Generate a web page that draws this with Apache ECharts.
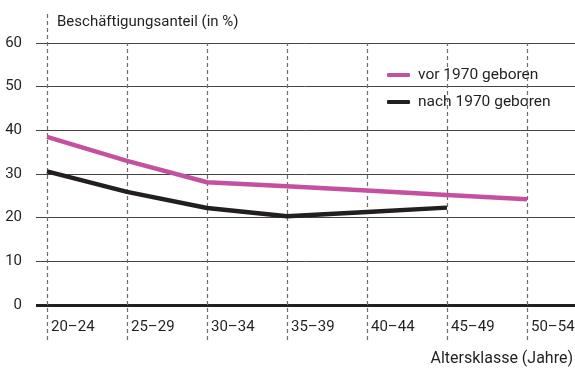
<!DOCTYPE html>
<html>
<head>
<meta charset="utf-8">
<script src="https://cdn.jsdelivr.net/npm/echarts@6/dist/echarts.min.js"></script>
<style>
  html, body { margin: 0; padding: 0; background: #fff; }
  #chart { width: 575px; height: 369px; }
</style>
</head>
<body>
<div id="chart"></div>
<script>
// Age groups (x categories)
const categories = ['20–24', '25–29', '30–34', '35–39', '40–44', '45–49', '50–54'];
// Employment share in % per age group
const bornBefore1970 = [38.5, 33.0, 28.1, 27.2, 26.2, 25.2, 24.2];
const bornAfter1970 = [30.6, 25.9, 22.2, 20.3, 21.3, 22.3];
// Horizontal reference lines (y values)
const yGridValues = [10, 20, 30, 40, 50, 60];

const FONT = 'Roboto';
const PINK = '#c4519f';
const DARK = '#231f20';

const toPoints = arr => arr.map((v, i) => [i, v]);

// Dashed vertical guides at every age group; the first one reaches up to the axis title
const verticalGuides = categories.map((c, i) => [
  { coord: [i, -8] },
  { coord: [i, i === 0 ? 67.1 : 60] }
]);

const chart = echarts.init(document.getElementById('chart'), null, { renderer: 'canvas' });

chart.setOption({
  animation: false,
  backgroundColor: '#fff',
  textStyle: { fontFamily: FONT },
  title: [
    {
      text: 'Beschäftigungsanteil (in %)',
      left: 52, top: 10,
      textStyle: { fontFamily: FONT, fontSize: 15, fontWeight: 'normal', color: '#231f20' }
    },
    {
      text: 'Altersklasse (Jahre)',
      right: -3, top: 346,
      textStyle: { fontFamily: FONT, fontSize: 16, fontWeight: 'normal', color: '#231f20' }
    }
  ],
  legend: {
    orient: 'vertical',
    left: 379, top: 61,
    padding: [6, 12, 6, 8],
    backgroundColor: '#fff',
    itemWidth: 23, itemHeight: 4,
    itemGap: 11,
    icon: 'roundRect',
    textStyle: { fontFamily: FONT, fontSize: 15.5, color: '#231f20', padding: [0, 0, 0, 3] },
    data: ['vor 1970 geboren', 'nach 1970 geboren']
  },
  grid: { left: 36, right: 0, top: -0.67, bottom: 20.33, outerBoundsMode: 'none', containLabel: false },
  xAxis: {
    type: 'value',
    min: -0.1375, max: 6.6,
    splitLine: { show: false },
    axisTick: { show: false },
    axisLine: { show: false, onZero: false },
    axisLabel: {
      customValues: categories.map((c, i) => i),
      formatter: v => categories[Math.round(v)] || '',
      align: 'left',
      padding: [0, 0, 0, 4],
      margin: -29,
      fontFamily: FONT, fontSize: 15, color: '#231f20'
    }
  },
  yAxis: {
    type: 'value',
    min: -10, max: 70, interval: 10,
    splitLine: { show: false },
    axisLine: { show: false },
    axisTick: { show: false },
    axisLabel: {
      formatter: v => (v < 0 || v > 60) ? '' : String(v),
      margin: 14,
      padding: [4, 0, 0, 0],
      fontFamily: FONT, fontSize: 15, color: '#231f20'
    }
  },
  series: [
    {
      // horizontal reference lines
      type: 'line',
      data: [],
      silent: true,
      markLine: {
        silent: true,
        symbol: 'none',
        label: { show: false },
        animation: false,
        lineStyle: { type: 'solid', color: '#444', width: 1 },
        data: yGridValues.map(v => ({ yAxis: v }))
          .concat([{ yAxis: 0, lineStyle: { color: '#231f20', width: 3 } }])
      }
    },
    {
      // dashed vertical guides
      type: 'line',
      data: [],
      silent: true,
      markLine: {
        silent: true,
        symbol: 'none',
        label: { show: false },
        animation: false,
        lineStyle: { type: [4, 3], color: '#6d6d6d', width: 1.2 },
        data: verticalGuides
      }
    },
    {
      name: 'vor 1970 geboren',
      type: 'line',
      data: toPoints(bornBefore1970),
      symbol: 'none',
      z: 5,
      itemStyle: { color: PINK },
      lineStyle: { color: PINK, width: 4.5 }
    },
    {
      name: 'nach 1970 geboren',
      type: 'line',
      data: toPoints(bornAfter1970),
      symbol: 'none',
      z: 5,
      itemStyle: { color: DARK },
      lineStyle: { color: DARK, width: 4.5 }
    }
  ]
});
</script>
</body>
</html>
